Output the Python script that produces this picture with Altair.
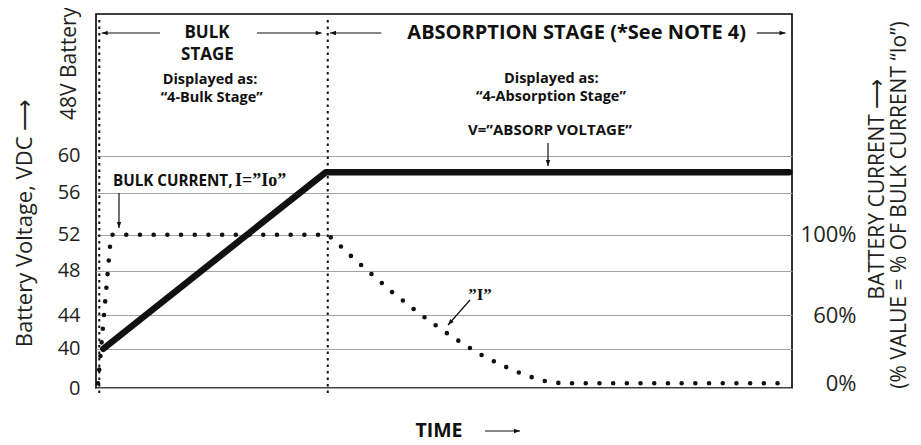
import math
import altair as alt
import pandas as pd

# ---------------- data ----------------
stage_times = [0.47, 33.3]                       # stage boundaries (time units 0..100)
voltage_time = [1.05, 33.0, 99.6]
voltage_vdc = [40, 58.2, 58.2]
current_time = [0.29, 2.16, 33.3, 34.8, 36.2, 37.7, 39.2, 40.7, 42.1, 43.7, 45.2,
                46.8, 48.4, 50.0, 51.6, 53.3, 54.9, 56.7, 58.5, 60.3, 62.1, 64.0,
                65.9, 67.8, 99.3]
current_pct = [0, 100, 100, 95.4, 90.8, 86.1, 81.6, 77.2, 72.7, 68.4, 64.3,
               60, 52.9, 45.9, 39.4, 32.9, 26.5, 20.8, 15.5, 10.6, 6.4, 2.6,
               0.5, 0, 0]
voltage_ticks = [0, 40, 44, 48, 52, 56, 60]
current_ticks = [0, 60, 100]

# ---------------- styling ----------------
SANS = "Open Sans"
SERIF = "Liberation Serif"
INK = "#111111"
INK2 = "#231f20"
W, H = 696, 374

vdf = pd.DataFrame({"time": voltage_time, "voltage": voltage_vdc})
cdf = pd.DataFrame({"time": current_time, "current": current_pct})
bdf = pd.DataFrame({"time": stage_times})
one = pd.DataFrame({"k": [0]})

x_scale = alt.Scale(domain=[0, 100], nice=False, zero=False)
v_scale = alt.Scale(domain=voltage_ticks,
                    range=[374, 334.7, 301.3, 256.7, 220.7, 178.7, 141.7],
                    nice=False, zero=False)
i_scale = alt.Scale(domain=current_ticks, range=[369.3, 301.3, 220.7],
                    nice=False, zero=False)

bounds = alt.Chart(bdf).mark_rule(color=INK, strokeWidth=2, strokeDash=[2.5, 4]).encode(
    x=alt.X("time:Q", scale=x_scale, axis=None),
    y=alt.value(6), y2=alt.value(383),
)

volt = alt.Chart(vdf).mark_line(color=INK, strokeWidth=6.5, strokeCap="round",
                                strokeJoin="round").encode(
    x=alt.X("time:Q", scale=x_scale, axis=None),
    y=alt.Y("voltage:Q", scale=v_scale,
            axis=alt.Axis(orient="left", values=voltage_ticks, grid=True,
                          gridColor="#a3a3a3", gridWidth=1, domain=False,
                          ticks=False, tickSize=0, labelPadding=16,
                          labelFont=SANS, labelFontSize=20, labelColor=INK2,
                          title="Battery Voltage, VDC \u27f6", titleFont=SANS,
                          titleFontSize=22, titleFontWeight="normal",
                          titleColor=INK2, titleAngle=270, titleX=-72,
                          titleY=208.5, titleAlign="center",
                          titleBaseline="middle")),
)

cur = alt.Chart(cdf).mark_line(color=INK, strokeWidth=4.6, strokeCap="round",
                               strokeDash=[0, 13.7]).encode(
    x=alt.X("time:Q", scale=x_scale, axis=None),
    y=alt.Y("current:Q", scale=i_scale,
            axis=alt.Axis(orient="right", values=current_ticks,
                          labelExpr="datum.value + '%'", grid=False,
                          domain=False, ticks=False, tickSize=0,
                          labelAlign="right", labelPadding=64,
                          labelFont=SANS, labelFontSize=22, labelColor=INK2,
                          title=None)),
)


def label(text, x, y, size, weight="bold", font=SANS, align="center", angle=0,
          color=INK):
    return alt.Chart(one).mark_text(
        text=text, fontSize=size, fontWeight=weight, font=font, align=align,
        baseline="middle", angle=angle, color=color,
    ).encode(x=alt.value(x), y=alt.value(y))


HEAD = "M0,0L-1,-0.38L-1,0.38Z"


def arrow(x1, y1, x2, y2):
    ang = math.degrees(math.atan2(y2 - y1, x2 - x1)) % 360
    shaft = alt.Chart(one).mark_rule(color=INK, strokeWidth=1.2).encode(
        x=alt.value(x1), y=alt.value(y1), x2=alt.value(x2), y2=alt.value(y2))
    head = alt.Chart(one).mark_point(shape=HEAD, size=144, angle=ang, filled=True,
                                     color=INK, opacity=1, strokeWidth=0).encode(
        x=alt.value(x2), y=alt.value(y2))
    return [shaft, head]


notes = [
    label("BULK", 111, 19, 17),
    label("STAGE", 111.5, 41, 17),
    label("Displayed as:", 114, 65.5, 14.5),
    label("\u201c4-Bulk Stage\u201d", 115.7, 83.5, 14.5),
    label("ABSORPTION STAGE (*See NOTE 4)", 480.7, 19, 20),
    label("Displayed as:", 455.3, 64.5, 14.5),
    label("\u201c4-Absorption Stage\u201d", 455, 83, 14.5),
    label("V=\u201dABSORP VOLTAGE\u201d", 454, 116, 15),
    label("BULK CURRENT,", 17, 167, 15.2, align="left"),
    label("I=\u201dIo\u201d", 139, 167, 18, font=SERIF, align="left"),
    label("\u201dI\u201d", 384, 281, 17, font=SERIF),
    label("TIME", 343, 417, 19.5),
    label("48V Battery", -26.5, 49.5, 21, weight="normal", angle=270, color=INK2),
    label("BATTERY CURRENT \u27f6", 782, 175, 21, weight="normal", angle=270,
          color=INK2),
    label("(% VALUE = % OF BULK CURRENT \u201cIo\u201d)", 804, 191, 21,
          weight="normal", angle=270, color=INK2),
]
arrows = (arrow(64, 19, 5.7, 19) + arrow(161, 19, 225.7, 19)
          + arrow(285.3, 19, 234, 19) + arrow(660.8, 19, 689.5, 19)
          + arrow(452, 129, 452, 152) + arrow(23, 179, 23, 214)
          + arrow(374, 286, 352, 311) + arrow(389, 417, 424, 417))

chart = alt.layer(bounds, volt, cur, *notes, *arrows).resolve_scale(
    y="independent"
).properties(
    width=W, height=H,
    autosize=alt.AutoSizeParams(type="none"),
    padding={"left": 88, "top": 6, "right": 121, "bottom": 57},
).configure_view(stroke="#000000", strokeWidth=1.6)

chart.save("out.html", embed_options={"renderer": "svg", "actions": False})
